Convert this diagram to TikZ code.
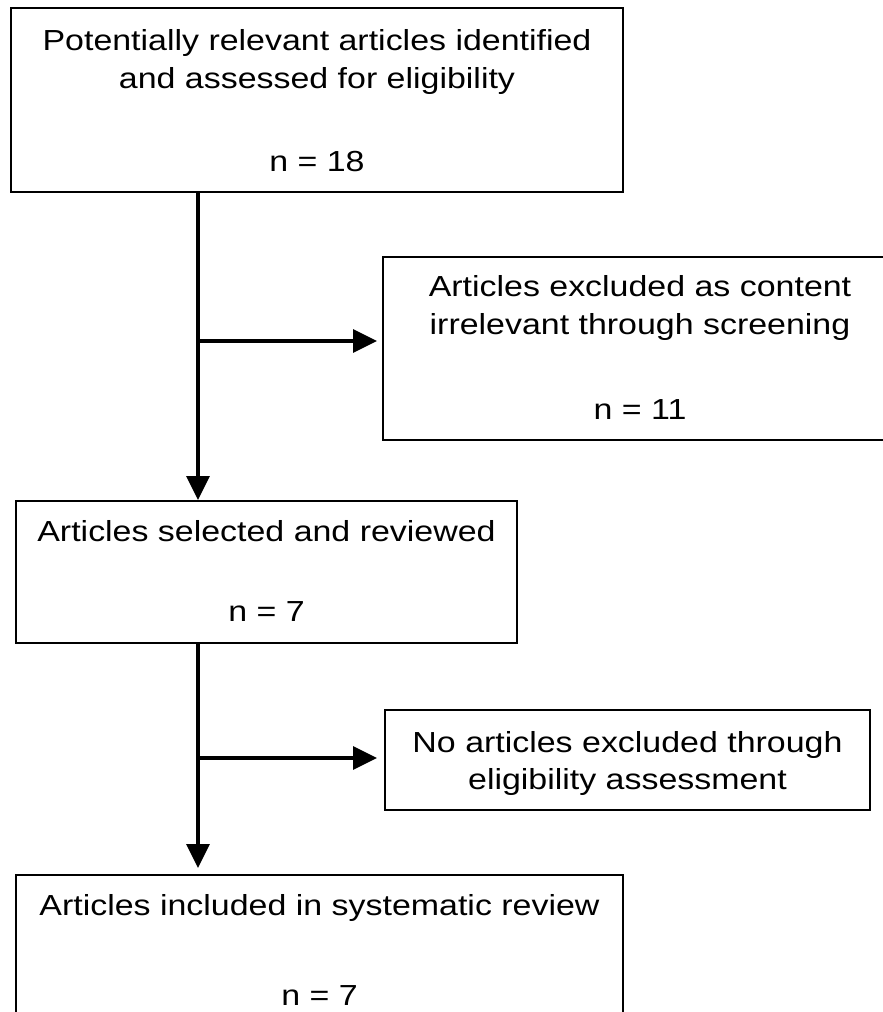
\documentclass[tikz,border=0pt]{standalone}
\usepackage{fontspec}
\setmainfont[FakeStretch=1.17]{Liberation Sans}
\usetikzlibrary{arrows.meta}
\begin{document}
\begin{tikzpicture}[x=1pt,y=-1pt,
  box/.style={draw=black, line width=2pt, inner sep=0pt, fill=none},
  txt/.style={anchor=base, inner sep=0pt, font=\fontsize{29}{34}\selectfont},
  flow/.style={line width=3.3pt, -{Triangle[length=24pt,width=23pt]}},
  plain/.style={line width=3.3pt}]
\useasboundingbox (0,0) rectangle (883,1012);
\fill[white] (0,0) rectangle (883,1012);
\clip (0,0) rectangle (883,1012);
% boxes
\node[box, minimum width=612pt, minimum height=184.5pt] (b1) at (317,99.75) {};
\node[box, minimum width=514pt, minimum height=183pt] (b2) at (640,348.5) {};
\node[box, minimum width=501pt, minimum height=141.5pt] (b3) at (266.5,571.75) {};
\node[box, minimum width=485pt, minimum height=100pt] (b4) at (627.5,760) {};
\node[box, minimum width=607pt, minimum height=155pt] (b5) at (319.5,952.5) {};
% texts
\node[txt] (t1a) at (317,50) {Potentially relevant articles identified};
\node[txt] (t1b) at (317,88) {and assessed for eligibility};
\node[txt] (t1c) at (317,171.5) {n = 18};
\node[txt] (t2a) at (640,296) {Articles excluded as content};
\node[txt] (t2b) at (640,334) {irrelevant through screening};
\node[txt] (t2c) at (640,419) {n = 11};
\node[txt] (t3a) at (266.5,541) {Articles selected and reviewed};
\node[txt] (t3c) at (266.5,621) {n = 7};
\node[txt] (t4a) at (627.5,752) {No articles excluded through};
\node[txt] (t4b) at (627.5,789) {eligibility assessment};
\node[txt] (t5a) at (319.5,915) {Articles included in systematic review};
\node[txt] (t5c) at (319.5,1005) {n = 7};
% junctions
\coordinate (j1) at (198,341);
\coordinate (j2) at (198,758);
% connectors
\draw[flow] (b1.south -| j1) -- (b3.north -| j1);
\draw[flow, shorten >=5pt] (j1) -- (j1 -| b2.west);
\draw[flow, shorten >=6pt] (b3.south -| j2) -- (b5.north -| j2);
\draw[flow, shorten >=7pt] (j2) -- (j2 -| b4.west);
\end{tikzpicture}
\end{document}
